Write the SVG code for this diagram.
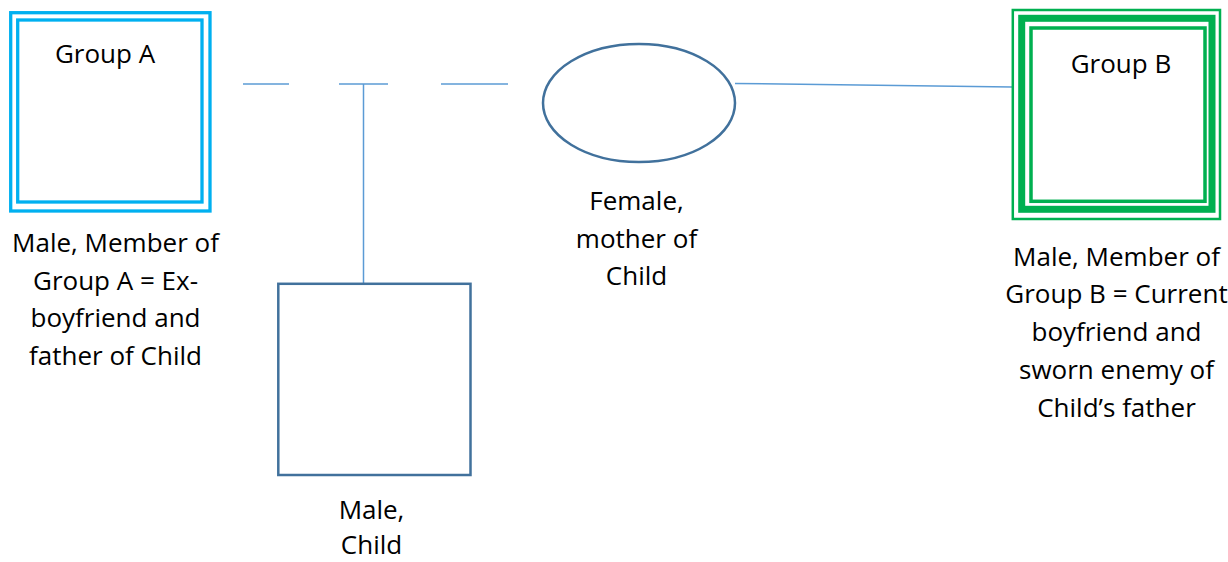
<svg xmlns="http://www.w3.org/2000/svg" width="1228" height="562" viewBox="0 0 1228 562">
<style>
  text { font-family: "Open Sans", "Liberation Sans", sans-serif; font-size: 26px; fill: #000; text-anchor: middle; }
  .blue { fill: none; stroke: #00B0F0; stroke-width: 3.3; }
  .green { fill: none; stroke: #00B050; }
  .shape { fill: #fff; stroke: #41719C; stroke-width: 2.5; }
  .conn { fill: none; stroke: #5B9BD5; stroke-width: 1.5; }
</style>
<rect width="1228" height="562" fill="#fff"/>
<g id="connectors">
  <line class="conn" x1="243" y1="84" x2="289" y2="84"/>
  <line class="conn" x1="339" y1="84" x2="388" y2="84"/>
  <line class="conn" x1="441" y1="84" x2="508" y2="84"/>
  <line class="conn" x1="363.5" y1="84" x2="363.5" y2="283"/>
  <line class="conn" x1="735" y1="83.5" x2="1012" y2="87"/>
</g>
<g id="groupA">
  <rect class="blue" x="10.7" y="12.7" width="199.3" height="198.3" fill="#fff"/>
  <rect class="blue" x="17.7" y="20" width="184.3" height="182"/>
  <text x="105" y="62.5">Group A</text>
</g>
<g id="groupA-label">
  <text x="115.5" y="252">Male, Member of</text>
  <text x="115.5" y="289.5">Group A = Ex-</text>
  <text x="115.5" y="327">boyfriend and</text>
  <text x="115.5" y="364.5">father of Child</text>
</g>
<g id="female">
  <ellipse class="shape" cx="639" cy="103" rx="96" ry="59"/>
  <text x="636.5" y="210">Female,</text>
  <text x="636.5" y="247.5">mother of</text>
  <text x="636.5" y="285">Child</text>
</g>
<g id="groupB">
  <rect class="green" x="1012.8" y="10" width="207.2" height="209" stroke-width="2.5" fill="#fff"/>
  <rect class="green" x="1021.7" y="18.3" width="190.3" height="191" stroke-width="7"/>
  <rect class="green" x="1031" y="28" width="174" height="173.3" stroke-width="3.5"/>
  <text x="1121" y="72.5">Group B</text>
</g>
<g id="groupB-label">
  <text x="1116.5" y="265.5">Male, Member of</text>
  <text x="1116.5" y="303">Group B = Current</text>
  <text x="1116.5" y="340.5">boyfriend and</text>
  <text x="1116.5" y="378.5">sworn enemy of</text>
  <text x="1116.5" y="416.5">Child’s father</text>
</g>
<g id="child">
  <rect class="shape" x="278.3" y="283.8" width="192.2" height="191.2"/>
  <text x="371.5" y="519">Male,</text>
  <text x="371.5" y="554">Child</text>
</g>
</svg>
